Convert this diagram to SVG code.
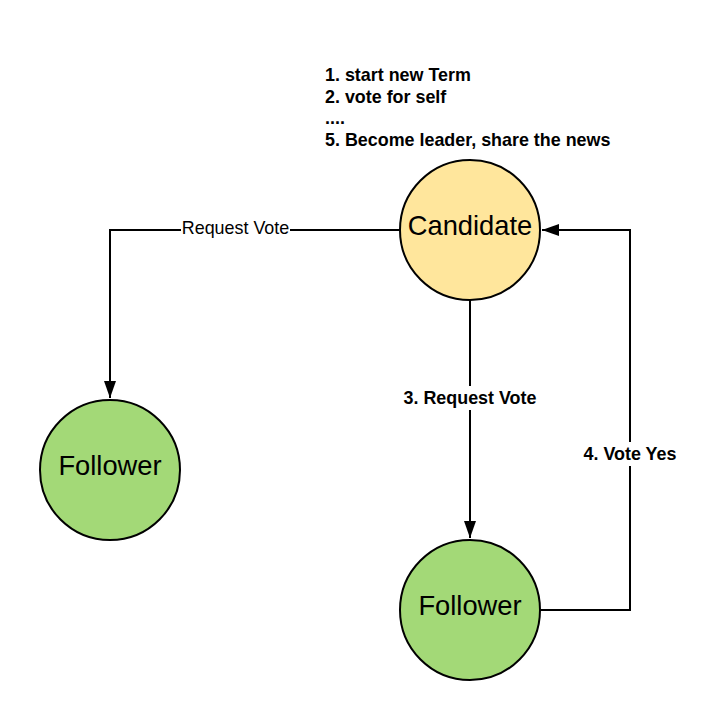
<svg xmlns="http://www.w3.org/2000/svg" width="717" height="720" viewBox="0 0 717 720">
<defs>
<style>
.node{stroke:#000;stroke-width:2}
.cand{fill:#ffe69c}
.foll{fill:#a3d977}
.nlabel{font-family:"Liberation Sans",Arial,sans-serif;font-size:27.3px;fill:#000;text-anchor:middle;dominant-baseline:central}
.edge{fill:none;stroke:#000;stroke-width:2}
.elabel{font-family:"Liberation Sans",Arial,sans-serif;font-size:17.9px;fill:#000;text-anchor:middle;dominant-baseline:central}
.bold{font-weight:bold}
.note{font-family:"Liberation Sans",Arial,sans-serif;font-size:17.9px;font-weight:bold;fill:#000}
</style>
<marker id="arrow" viewBox="0 0 17 12" refX="17" refY="6" markerWidth="17" markerHeight="12" markerUnits="userSpaceOnUse" orient="auto">
<path d="M0,0 L17,6 L0,12 Z" fill="#000"/>
</marker>
</defs>
<rect width="717" height="720" fill="#fff"/>
<g id="connectors">
<path class="edge" d="M400,230 H110 V398" marker-end="url(#arrow)"/>
<rect x="181" y="219" width="109" height="20" fill="#fff"/>
<text class="elabel" x="235.5" y="228">Request Vote</text>
<path class="edge" d="M470,300 V538" marker-end="url(#arrow)"/>
<rect x="402" y="386" width="136" height="24" fill="#fff"/>
<text class="elabel bold" x="470" y="398">3. Request Vote</text>
<path class="edge" d="M540,610 H630 V230 H542" marker-end="url(#arrow)"/>
<rect x="581" y="442" width="98" height="24" fill="#fff"/>
<text class="elabel bold" x="630" y="454">4. Vote Yes</text>
</g>
<g id="note">
<text class="note" x="325" y="81">1. start new Term</text>
<text class="note" x="325" y="102.5">2. vote for self</text>
<text class="note" x="325" y="124">....</text>
<text class="note" x="325" y="145.5">5. Become leader, share the news</text>
</g>
<g id="candidate">
<circle class="node cand" cx="470" cy="230" r="70"/>
<text class="nlabel" x="470" y="225.5">Candidate</text>
</g>
<g id="follower-left">
<circle class="node foll" cx="110" cy="470" r="70"/>
<text class="nlabel" x="110" y="465.5">Follower</text>
</g>
<g id="follower-bottom">
<circle class="node foll" cx="470" cy="610" r="70"/>
<text class="nlabel" x="470" y="605.5">Follower</text>
</g>
</svg>
